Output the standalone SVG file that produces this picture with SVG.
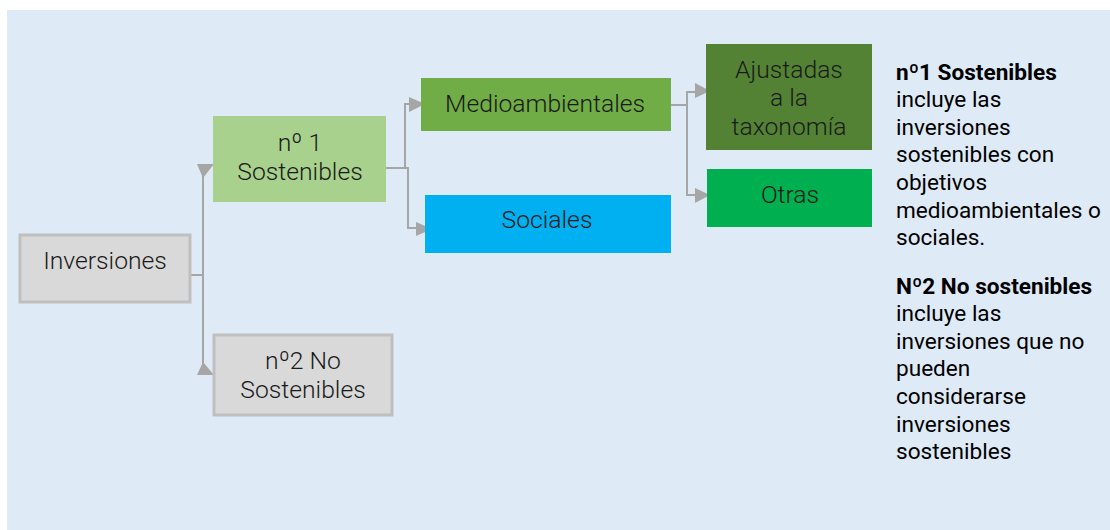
<svg xmlns="http://www.w3.org/2000/svg" width="1110" height="530" viewBox="0 0 1110 530">
<style>
.bt{font-family:Roboto,"Liberation Sans",sans-serif;font-weight:300;font-size:24.7px;fill:#1a1a1a;text-anchor:middle}
.rt{font-family:Roboto,"Liberation Sans",sans-serif;font-size:22.6px;fill:#000}
.rb{font-weight:700}
.c{fill:none;stroke:#a6a6a6;stroke-width:2}
.ah{fill:#a6a6a6}
.gr{fill:#d9d9d9;stroke:#bfbfbf;stroke-width:3}
</style>
<rect x="7" y="10" width="1103" height="520" fill="#deeaf6"/>
<g id="connectors">
<polyline class="c" points="190,275 203,275 203,166"/>
<polyline class="c" points="203,275 203,372"/>
<polygon class="ah" points="197,164 214,164 203,178"/>
<polygon class="ah" points="197,375 214,375 203,362"/>
<polyline class="c" points="386,168 405,168 405,104 412,104"/>
<polyline class="c" points="405,168 408,168 408,228 418,228"/>
<polygon class="ah" points="409,97 425,104 409,112"/>
<polygon class="ah" points="416,222 432,229 416,236"/>
<polyline class="c" points="663,105 687,105 687,92 697,92"/>
<polyline class="c" points="687,105 687,195 697,195"/>
<polygon class="ah" points="695,83 710,91 695,98"/>
<polygon class="ah" points="695,188 710,195 695,203"/>
</g>
<g id="inversiones">
<rect class="gr" x="20" y="235" width="170" height="67"/>
<text class="bt" x="105" y="269">Inversiones</text>
</g>
<g id="sostenibles">
<rect x="213" y="116" width="173" height="86" fill="#a9d18e"/>
<text class="bt" x="300" y="151">nº 1</text>
<text class="bt" x="300" y="180">Sostenibles</text>
</g>
<g id="no-sostenibles">
<rect class="gr" x="214" y="335" width="178" height="80"/>
<text class="bt" x="303" y="369">nº2 No</text>
<text class="bt" x="303" y="398">Sostenibles</text>
</g>
<g id="medioambientales">
<rect x="421" y="78" width="250" height="53" fill="#70ad47"/>
<text class="bt" x="545" y="112">Medioambientales</text>
</g>
<g id="sociales">
<rect x="425" y="195" width="246" height="58" fill="#00b0f0"/>
<text class="bt" x="547" y="228">Sociales</text>
</g>
<g id="ajustadas">
<rect x="706" y="44" width="166" height="106" fill="#548235"/>
<text class="bt" x="789" y="78">Ajustadas</text>
<text class="bt" x="789" y="106">a la</text>
<text class="bt" x="789" y="135">taxonomía</text>
</g>
<g id="otras">
<rect x="707" y="169" width="165" height="58" fill="#00b050"/>
<text class="bt" x="790" y="203">Otras</text>
</g>
<g id="legend">
<text class="rt rb" x="896" y="80">nº1 Sostenibles</text>
<text class="rt" x="896" y="107">incluye las</text>
<text class="rt" x="896" y="135">inversiones</text>
<text class="rt" x="896" y="162">sostenibles con</text>
<text class="rt" x="896" y="190">objetivos</text>
<text class="rt" x="896" y="218">medioambientales o</text>
<text class="rt" x="896" y="245">sociales.</text>
<text class="rt rb" x="896" y="294">Nº2 No sostenibles</text>
<text class="rt" x="896" y="321">incluye las</text>
<text class="rt" x="896" y="349">inversiones que no</text>
<text class="rt" x="896" y="376">pueden</text>
<text class="rt" x="896" y="404">considerarse</text>
<text class="rt" x="896" y="432">inversiones</text>
<text class="rt" x="896" y="459">sostenibles</text>
</g>
</svg>
